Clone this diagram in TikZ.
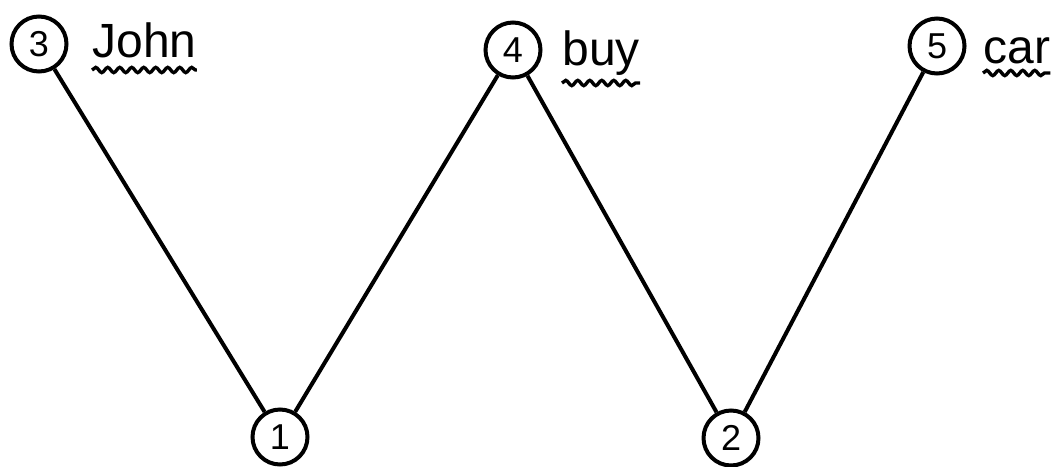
\documentclass[tikz,border=0pt]{standalone}
\usepackage{fontspec}
\setmainfont{Liberation Sans}
\usetikzlibrary{decorations.pathmorphing}

\begin{document}
\begin{tikzpicture}[
    x=0.5pt, y=-0.5pt,
    % Numbered vertices: drawn circles
    vtx/.style={circle, draw, line width=2pt, minimum size=27.5pt,
        inner sep=0pt, font=\fontsize{18}{18}\selectfont},
    % Word labels
    word/.style={font=\fontsize{24}{24}\selectfont, inner sep=0pt, anchor=base west},
    % Edge style
    edge/.style={line width=2pt},
    % Wavy underline
    wavy/.style={line width=1.7pt, decorate,
        decoration={snake, amplitude=1.3pt, segment length=6pt}},
]
\useasboundingbox (0,0) rectangle (1053,466);

% ============================================================
% Top row: 3, 4, 5 with their words
% ============================================================
\node[vtx] (v3) at (39, 44) {3};
\node[vtx] (v4) at (513, 50) {4};
\node[vtx] (v5) at (937, 46) {5};

\node[word] (wjohn) at (92, 57) {John};
\node[word] (wbuy) at (562, 65) {buy};
\node[word] (wcar) at (983, 63) {car};

% ============================================================
% Bottom row: 1, 2
% ============================================================
\node[vtx] (v1) at (280, 437) {1};
\node[vtx] (v2) at (731, 438) {2};

% Edges
\draw[edge] (v3) -- (v1);
\draw[edge] (v1) -- (v4);
\draw[edge] (v4) -- (v2);
\draw[edge] (v2) -- (v5);

% Wavy underlines below the words
\draw[wavy] ([yshift=-6.5pt]wjohn.base west) -- ([yshift=-6.5pt]wjohn.base east);
\draw[wavy] ([yshift=-9pt]wbuy.base west) -- ([yshift=-9pt]wbuy.base east);
\draw[wavy] ([yshift=-5pt]wcar.base west) -- ([yshift=-5pt]wcar.base east);

\end{tikzpicture}
\end{document}
